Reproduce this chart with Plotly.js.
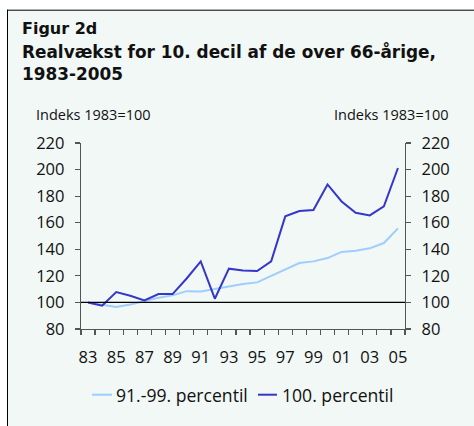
<!DOCTYPE html>
<html>
<head>
<meta charset="utf-8">
<script src="https://cdn.plot.ly/plotly-3.0.1.min.js"></script>
<style>html,body{margin:0;padding:0;background:#fff;}#chart{width:474px;height:426px;}</style>
</head>
<body>
<div id="chart"></div>
<script>
// ---- data ----
const years = ['83','84','85','86','87','88','89','90','91','92','93','94','95','96','97','98','99','00','01','02','03','04','05'];
const shownYearLabels = ['83','85','87','89','91','93','95','97','99','01','03','05'];
const seriesNames = ['91.-99. percentil', '100. percentil'];
const pct91to99 = [100, 98.3, 96.6, 98.5, 101, 103.5, 105.3, 108.5, 108.3, 110.1, 111.6, 113.9, 115.1, 120.1, 124.5, 129.7, 130.9, 133.4, 138, 138.9, 140.7, 144.7, 155.7];
const pct100 = [100, 97.5, 107.8, 105, 101.5, 106.3, 106.3, 118, 130.9, 102.8, 125.4, 124.1, 123.6, 130.9, 164.8, 168.8, 169.6, 188.8, 176, 167.5, 165.5, 172.3, 201.2];
const yTicks = [80, 100, 120, 140, 160, 180, 200, 220];

// ---- layout helpers (pixel -> paper) ----
const W = 474, H = 426;
const L = 81, R = 405, T = 143.3, B = 329.3;
const px = x => (x - L) / (R - L);
const py = y => (B - y) / (B - T);

const FONT = 'Open Sans, Noto Sans, sans-serif';
const TFONT = 'DejaVu Sans, Open Sans, sans-serif';
const lightC = '#9fcdfd';
const darkC = '#3636c8';
const axisC = '#555555';
const bg = '#f1f8f6';

const traces = [
  {x: years, y: pct91to99, name: seriesNames[0], type: 'scatter', mode: 'lines',
   line: {color: lightC, width: 2}, showlegend: false, hoverinfo: 'skip'},
  {x: years, y: pct100, name: seriesNames[1], type: 'scatter', mode: 'lines',
   line: {color: darkC, width: 2}, showlegend: false, hoverinfo: 'skip'},
  {x: years, y: pct100, yaxis: 'y2', type: 'scatter', mode: 'lines',
   line: {color: 'rgba(0,0,0,0)', width: 0}, showlegend: false, hoverinfo: 'skip'}
];

const yAxisBase = {
  range: [80, 220], tickvals: yTicks, ticks: 'outside', ticklen: 5, tickwidth: 1.2,
  tickcolor: axisC, showline: true, linecolor: axisC, linewidth: 1.2,
  showgrid: false, zeroline: false, fixedrange: true,
  tickfont: {family: FONT, size: 16.5, color: '#111'}, ticklabelstandoff: 7
};

const layout = {
  width: W, height: H,
  margin: {l: L, r: W - R, t: T, b: H - B},
  paper_bgcolor: '#ffffff',
  plot_bgcolor: 'rgba(0,0,0,0)',
  font: {family: FONT, color: '#111'},
  showlegend: false,
  xaxis: {
    type: 'category', range: [-0.5, years.length - 0.5],
    tickvals: years, ticktext: years.map(y => shownYearLabels.includes(y) ? y : ''),
    tickangle: 0,
    tickson: 'boundaries', ticks: 'outside', ticklen: 5, tickwidth: 1.2, tickcolor: axisC,
    showline: true, linecolor: axisC, linewidth: 1.2, showgrid: false, zeroline: false,
    tickfont: {family: FONT, size: 16.5, color: '#111'}, ticklabelstandoff: 13, fixedrange: true
  },
  yaxis: Object.assign({}, yAxisBase, {side: 'left'}),
  yaxis2: Object.assign({}, yAxisBase, {side: 'right', overlaying: 'y'}),
  shapes: [
    {type: 'rect', xref: 'paper', yref: 'paper', x0: px(7), x1: px(480), y0: py(430), y1: py(10),
     fillcolor: bg, line: {width: 0}, layer: 'below'},
    {type: 'line', xref: 'paper', yref: 'paper', x0: px(7), x1: px(480), y0: py(10.5), y1: py(10.5),
     line: {color: '#000', width: 1}},
    {type: 'line', xref: 'paper', yref: 'paper', x0: px(7.5), x1: px(7.5), y0: py(10), y1: py(430),
     line: {color: '#000', width: 1}},
    {type: 'line', xref: 'paper', yref: 'y', x0: 0, x1: 1, y0: 100, y1: 100,
     line: {color: '#000', width: 1.2}},
    // legend samples
    {type: 'line', xref: 'paper', yref: 'paper', x0: px(92), x1: px(112), y0: py(395), y1: py(395),
     line: {color: lightC, width: 2}},
    {type: 'line', xref: 'paper', yref: 'paper', x0: px(258), x1: px(277), y0: py(395), y1: py(395),
     line: {color: darkC, width: 2}}
  ],
  annotations: [
    {text: '<b>Figur 2d</b>', xref: 'paper', yref: 'paper', x: px(20), y: py(28.8),
     xanchor: 'left', yanchor: 'middle', showarrow: false, font: {family: TFONT, size: 16, color: '#111'}},
    {text: '<b>Realvækst for 10. decil af de over 66-årige,</b><br><b>1983-2005</b>', xref: 'paper', yref: 'paper',
     x: px(20), y: py(63.3), align: 'left',
     xanchor: 'left', yanchor: 'middle', showarrow: false, font: {family: TFONT, size: 16.9, color: '#111'}},
    {text: 'Indeks 1983=100', xref: 'paper', yref: 'paper', x: px(34), y: py(114.5),
     xanchor: 'left', yanchor: 'middle', showarrow: false, font: {family: FONT, size: 14.5, color: '#111'}},
    {text: 'Indeks 1983=100', xref: 'paper', yref: 'paper', x: px(451), y: py(114.5),
     xanchor: 'right', yanchor: 'middle', showarrow: false, font: {family: FONT, size: 14.5, color: '#111'}},
    {text: seriesNames[0], xref: 'paper', yref: 'paper', x: px(114), y: py(395),
     xanchor: 'left', yanchor: 'middle', showarrow: false, font: {family: FONT, size: 17.6, color: '#111'}},
    {text: seriesNames[1], xref: 'paper', yref: 'paper', x: px(280), y: py(395),
     xanchor: 'left', yanchor: 'middle', showarrow: false, font: {family: FONT, size: 17.6, color: '#111'}}
  ]
};

Plotly.newPlot('chart', traces, layout, {staticPlot: true, displayModeBar: false});
</script>
</body>
</html>
